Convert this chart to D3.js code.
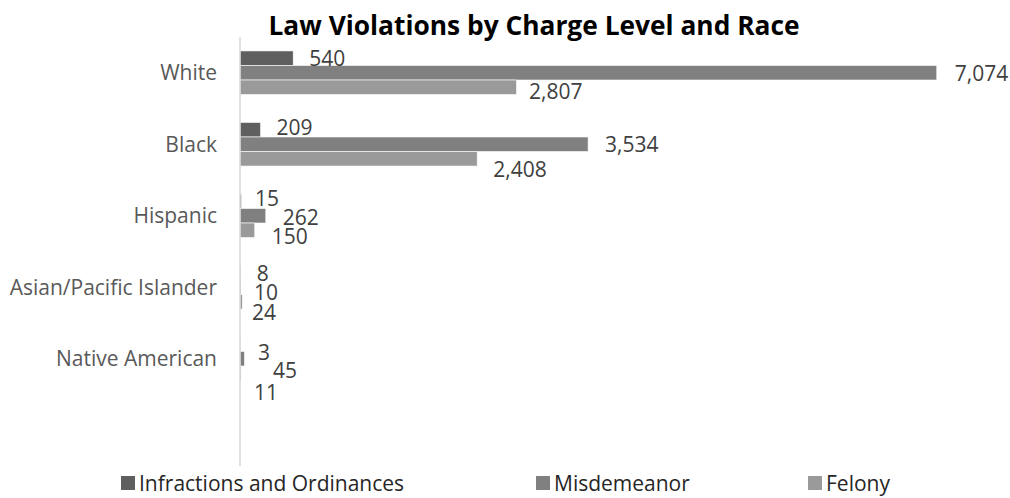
<!DOCTYPE html>
<html>
<head>
<meta charset="utf-8">
<script src="https://cdn.jsdelivr.net/npm/d3@7"></script>
<style>
  body { margin: 0; background: #fff; }
  #chart text { font-family: "Open Sans", "Noto Sans", sans-serif; }
</style>
</head>
<body>
<div id="chart"></div>
<script>
// data
const categories = ["White", "Black", "Hispanic", "Asian/Pacific Islander", "Native American", ""];
const seriesNames = ["Infractions and Ordinances", "Misdemeanor", "Felony"];
const infractions = [540, 209, 15, 8, 3];
const misdemeanor = [7074, 3534, 262, 10, 45];
const felony = [2807, 2408, 150, 24, 11];

const colors = ["#5f5f5f", "#808080", "#9a9a9a"];
// label nudges [dx from bar end, dy from bar centre], per category then series
const labelNudge = [
  [[16, 0], [18, 1], [12.5, 4]],
  [[16, -2], [17, 0], [16, 11]],
  [[13.5, -2.5], [17, 1.5], [17, 6.5]],
  [[16, 0.5], [13, 5.5], [9.6, 11]],
  [[17.7, 8.5], [28.6, 12], [13, 19.5]]
];

const width = 1010, height = 498;
const svg = d3.select("#chart").append("svg")
  .attr("width", width)
  .attr("height", height);

const allSeries = [infractions, misdemeanor, felony];
const rows = [];
categories.forEach((c, i) => {
  if (c === "") return;
  allSeries.forEach((s, j) => {
    rows.push({ cat: c, ci: i, si: j, value: s[i] });
  });
});

const x = d3.scaleLinear().domain([0, 8000]).range([240, 1028]);
const y = d3.scaleBand().domain(categories).range([37, 466])
  .paddingInner(0.39).paddingOuter(0.195);
const ys = d3.scaleBand().domain(d3.range(3)).range([0, y.bandwidth()]);

// title
svg.append("text")
  .attr("x", 534)
  .attr("y", 35)
  .attr("text-anchor", "middle")
  .attr("textLength", 531)
  .attr("lengthAdjust", "spacingAndGlyphs")
  .style("font-size", "26px")
  .style("font-weight", "bold")
  .style("fill", "#000")
  .text("Law Violations by Charge Level and Race");

// bars
svg.append("g")
  .selectAll("rect")
  .data(rows)
  .enter()
  .append("rect")
  .attr("x", x(0))
  .attr("y", (d) => y(d.cat) + ys(d.si))
  .attr("width", (d) => x(d.value) - x(0))
  .attr("height", ys.bandwidth())
  .style("fill", (d) => colors[d.si])
  .style("stroke", "#fff")
  .style("stroke-width", 0.6);

// category axis line
svg.append("line")
  .attr("x1", x(0)).attr("x2", x(0))
  .attr("y1", y.range()[0]).attr("y2", y.range()[1])
  .style("stroke", "#d9d9d9")
  .style("stroke-width", 1.5);

// category labels
svg.append("g")
  .selectAll("text")
  .data(categories.filter((c) => c !== ""))
  .enter()
  .append("text")
  .attr("x", 217)
  .attr("y", (d) => y(d) + y.bandwidth() / 2)
  .attr("dy", "0.357em")
  .attr("text-anchor", "end")
  .style("font-size", "21px")
  .style("fill", "#595959")
  .text((d) => d);

// data labels
const fmt = d3.format(",");
svg.append("g")
  .selectAll("text")
  .data(rows)
  .enter()
  .append("text")
  .attr("x", (d) => x(d.value) + labelNudge[d.ci][d.si][0])
  .attr("y", (d) => y(d.cat) + ys(d.si) + ys.bandwidth() / 2 + labelNudge[d.ci][d.si][1])
  .attr("dy", "0.357em")
  .style("font-size", "21px")
  .style("fill", "#404040")
  .text((d) => fmt(d.value));

// legend
const legendX = [121, 536, 808];
const legend = svg.append("g")
  .selectAll("g")
  .data(seriesNames)
  .enter()
  .append("g")
  .attr("transform", (d, i) => "translate(" + legendX[i] + ",483)");

legend.append("rect")
  .attr("x", 0)
  .attr("y", -7)
  .attr("width", 14)
  .attr("height", 14)
  .style("fill", (d, i) => colors[i]);

legend.append("text")
  .attr("x", 18)
  .attr("y", 0)
  .attr("dy", "0.357em")
  .style("font-size", "21px")
  .style("fill", "#262626")
  .text((d) => d);
</script>
</body>
</html>
